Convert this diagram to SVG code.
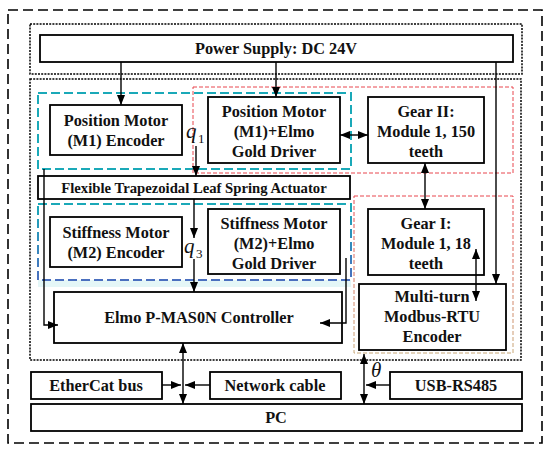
<svg xmlns="http://www.w3.org/2000/svg" width="550" height="452" viewBox="0 0 550 452">
<style>
.box{fill:#fff;stroke:#000;stroke-width:1.8}
.t{font-family:"Liberation Serif","Times New Roman",serif;font-weight:bold;font-size:16.3px;text-anchor:middle;fill:#111}
.ts{font-size:14.7px}
.v{font-family:"Liberation Serif","Times New Roman",serif;font-style:italic;font-size:21px;fill:#111}
.sub{font-family:"Liberation Serif","Times New Roman",serif;font-size:13px;fill:#111}
.c{fill:none;stroke:#000;stroke-width:1.4}
.dot{fill:none;stroke:#000;stroke-width:1.5;stroke-dasharray:2 1.2}
</style>
<defs>
<marker id="ah" viewBox="0 0 10 8" refX="10" refY="4" markerWidth="10" markerHeight="8" markerUnits="userSpaceOnUse" orient="auto-start-reverse">
<path d="M0,0 L10,4 L0,8 Z" fill="#000"/>
</marker>
<linearGradient id="gb" x1="0" y1="0" x2="0" y2="1">
<stop offset="0" stop-color="#1aa9b8"/>
<stop offset="1" stop-color="#4a6fbf"/>
</linearGradient>
<linearGradient id="gr" x1="0" y1="0" x2="0" y2="1">
<stop offset="0" stop-color="#e8464e"/>
<stop offset="1" stop-color="#c8a878"/>
</linearGradient>
</defs>
<rect width="550" height="452" fill="#fff"/>
<g id="frames">
<rect x="8" y="10" width="534" height="433" fill="none" stroke="#000" stroke-width="1.6" stroke-dasharray="10 5"/>
<rect class="dot" x="30" y="24" width="492" height="50"/>
<rect class="dot" x="30" y="79" width="491" height="281"/>
<rect x="38" y="280" width="313" height="7" fill="#e4f6f7"/>
<rect x="38" y="93" width="313" height="76" fill="none" stroke="#1aa9b8" stroke-width="2" stroke-dasharray="9 4"/>
<rect x="193" y="87" width="320" height="86" fill="none" stroke="#e8464e" stroke-width="1" stroke-dasharray="4 2"/>
<rect x="38" y="204" width="313" height="76" fill="none" stroke="url(#gb)" stroke-width="2" stroke-dasharray="9 4"/>
<rect x="354" y="196" width="159" height="157" fill="none" stroke="url(#gr)" stroke-width="1" stroke-dasharray="4 2"/>
</g>
<g id="power"><rect class="box" x="40" y="35" width="473" height="27"/><text class="t" x="276" y="54">Power Supply: DC 24V</text></g>
<g id="m1enc"><rect class="box" x="50" y="105" width="132" height="50"/><text class="t" x="116" y="126">Position Motor</text><text class="t" x="116" y="146">(M1) Encoder</text></g>
<g id="m1drv"><rect class="box" x="208" y="97" width="132" height="66"/><text class="t" x="274" y="117">Position Motor</text><text class="t" x="274" y="137">(M1)+Elmo</text><text class="t" x="274" y="157">Gold Driver</text></g>
<g id="gear2"><rect class="box" x="368" y="97" width="116" height="66"/><text class="t" x="426" y="117">Gear II:</text><text class="t" x="426" y="137">Module 1, 150</text><text class="t" x="426" y="157">teeth</text></g>
<g id="spring"><rect class="box" x="38" y="176" width="312" height="23"/><text class="t ts" x="194" y="193">Flexible Trapezoidal Leaf Spring Actuator</text></g>
<g id="m2enc"><rect class="box" x="50" y="217" width="132" height="50"/><text class="t" x="116" y="238">Stiffness Motor</text><text class="t" x="116" y="258">(M2) Encoder</text></g>
<g id="m2drv"><rect class="box" x="208" y="209" width="132" height="65"/><text class="t" x="274" y="229">Stiffness Motor</text><text class="t" x="274" y="249">(M2)+Elmo</text><text class="t" x="274" y="269">Gold Driver</text></g>
<g id="gear1"><rect class="box" x="368" y="209" width="116" height="66"/><text class="t" x="426" y="229">Gear I:</text><text class="t" x="426" y="249">Module 1, 18</text><text class="t" x="426" y="269">teeth</text></g>
<g id="ctrl"><rect class="box" x="54" y="292" width="288" height="51"/><text class="t" x="199" y="323">Elmo P-MAS0N Controller</text></g>
<g id="mtenc"><rect class="box" x="359" y="284" width="147" height="66"/><text class="t" x="432" y="302">Multi-turn</text><text class="t" x="432" y="322">Modbus-RTU</text><text class="t" x="432" y="342">Encoder</text></g>
<g id="ethercat"><rect class="box" x="31" y="372" width="131" height="27"/><text class="t" x="96" y="391">EtherCat bus</text></g>
<g id="netcable"><rect class="box" x="210" y="372" width="131" height="27"/><text class="t" x="275" y="391">Network cable</text></g>
<g id="usb"><rect class="box" x="390" y="372" width="132" height="27"/><text class="t" x="456" y="391">USB-RS485</text></g>
<g id="pc"><rect class="box" x="31" y="404" width="491" height="27"/><text class="t" x="276" y="423">PC</text></g>
<g id="connectors">
<path class="c" d="M121,62 V105" marker-end="url(#ah)"/>
<path class="c" d="M276,62 V97" marker-end="url(#ah)"/>
<path class="c" d="M496,62 V284" marker-end="url(#ah)"/>
<path class="c" d="M340,135 H368" marker-start="url(#ah)" marker-end="url(#ah)"/>
<path class="c" d="M425,163 V209" marker-start="url(#ah)" marker-end="url(#ah)"/>
<path class="c" d="M476,249 V301" marker-start="url(#ah)" marker-end="url(#ah)"/>
<path class="c" d="M196,146 V176" marker-end="url(#ah)"/>
<path class="c" d="M194,199 V238" marker-end="url(#ah)"/>
<path class="c" d="M194,259 V292" marker-end="url(#ah)"/>
<path class="c" d="M44,169 V325 H58" marker-end="url(#ah)"/>
<path class="c" d="M346,258 V323 H320" marker-end="url(#ah)"/>
<path class="c" d="M183,343 V404" marker-start="url(#ah)" marker-end="url(#ah)"/>
<path class="c" d="M162,385 H181" marker-end="url(#ah)"/>
<path class="c" d="M210,385 H185" marker-end="url(#ah)"/>
<path class="c" d="M364,354 V404" marker-start="url(#ah)" marker-end="url(#ah)"/>
<path class="c" d="M390,385 H366" marker-end="url(#ah)"/>
<text class="v" x="186" y="138">q</text><text class="sub" x="198" y="143">1</text>
<text class="v" x="184" y="253">q</text><text class="sub" x="196" y="258">3</text>
<text class="v" x="371" y="377">θ</text>
</g>
</svg>
